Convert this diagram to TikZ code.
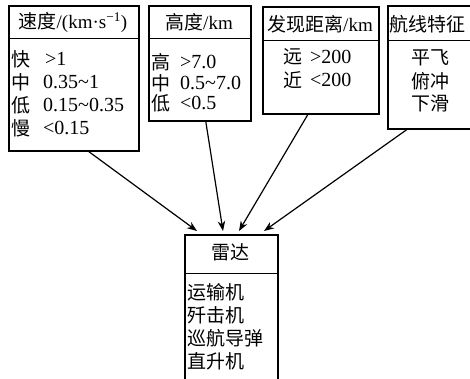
\documentclass[tikz,border=0pt]{standalone}
\usepackage{fontspec}
\setmainfont{Liberation Serif}
\newfontfamily\cjk{Noto Sans CJK SC}
\usetikzlibrary{arrows.meta}
\begin{document}
\begin{tikzpicture}[x=1pt,y=-1pt,
 box/.style={draw, line width=1.6pt, inner sep=0pt, anchor=north west},
 divider/.style={line width=1pt},
 txt/.style={inner sep=0pt, anchor=west, font=\fontsize{19}{19}\selectfont},
 val/.style={inner sep=0pt, anchor=west, font=\fontsize{20}{20}\selectfont},
 ctxt/.style={inner sep=0pt, anchor=center, font=\fontsize{19}{19}\selectfont},
 arr/.style={line width=1.2pt, -{Stealth[length=10pt,width=7.5pt]}}]
\useasboundingbox (0,0) rectangle (470,378);
\clip (0,0) rectangle (470,378);
% boxes
\node[box, minimum width=130pt, minimum height=145pt] (b1) at (8,5) {};
\node[box, minimum width=102pt, minimum height=115pt] (b2) at (148,5) {};
\node[box, minimum width=116pt, minimum height=107pt] (b3) at (262,6) {};
\node[box, minimum width=100pt, minimum height=123pt] (b4) at (387,5) {};
\node[box, minimum width=93pt, minimum height=160pt] (radar) at (184,234) {};
% dividers
\draw[divider] (b1.west |- 0,38) -- (b1.east |- 0,38);
\draw[divider] (b2.west |- 0,38) -- (b2.east |- 0,38);
\draw[divider] (b3.west |- 0,40) -- (b3.east |- 0,40);
\draw[divider] (b4.west |- 0,40) -- (b4.east |- 0,40);
\draw[divider] (radar.west |- 0,273) -- (radar.east |- 0,273);
% box 1
\node[ctxt] (t1) at (73,22) {{\cjk 速度}/(km·s\textsuperscript{−1})};
\node[txt] (k1) at (11,59) {\cjk 快};  \node[val] (v1) at (45,59) {>1};
\node[txt] (k2) at (11,82) {\cjk 中};  \node[val] (v2) at (43,82) {0.35\textasciitilde 1};
\node[txt] (k3) at (11,105) {\cjk 低}; \node[val] (v3) at (43,105) {0.15\textasciitilde 0.35};
\node[txt] (k4) at (11,128) {\cjk 慢}; \node[val] (v4) at (43,128) {<0.15};
% box 2
\node[ctxt] (t2) at (199,22) {{\cjk 高度}/km};
\node[txt] (h1) at (151,62) {\cjk 高};  \node[val] (w1) at (180,62) {>7.0};
\node[txt] (h2) at (151,83) {\cjk 中};  \node[val] (w2) at (180,83) {0.5\textasciitilde 7.0};
\node[txt] (h3) at (151,103) {\cjk 低}; \node[val] (w3) at (180,103) {<0.5};
% box 3
\node[ctxt] (t3) at (320,24) {{\cjk 发现距离}/km};
\node[txt] (d1) at (283,57) {\cjk 远}; \node[val] (e1) at (310,57) {>200};
\node[txt] (d2) at (283,80) {\cjk 近}; \node[val] (e2) at (310,80) {<200};
% box 4
\node[txt] (t4) at (389,24) {\cjk 航线特征};
\node[ctxt] (f1) at (430,58) {\cjk 平飞};
\node[ctxt] (f2) at (430,81) {\cjk 俯冲};
\node[ctxt] (f3) at (430,103) {\cjk 下滑};
% radar
\node[ctxt] (tr) at (230,252) {\cjk 雷达};
\node[txt] (r1) at (187,292) {\cjk 运输机};
\node[txt] (r2) at (187,315) {\cjk 歼击机};
\node[txt] (r3) at (187,338) {\cjk 巡航导弹};
\node[txt] (r4) at (187,361) {\cjk 直升机};
% arrows
\draw[arr] ([xshift=15pt]b1.south) -- ([xshift=13pt,yshift=3pt]radar.north west);
\draw[arr] ([xshift=6pt]b2.south) -- ([xshift=39pt,yshift=3pt]radar.north west);
\draw[arr] ([xshift=-13pt]b3.south) -- ([xshift=55pt,yshift=3pt]radar.north west);
\draw[arr] ([xshift=-31pt]b4.south) -- ([xshift=80pt,yshift=3pt]radar.north west);
\end{tikzpicture}
\end{document}
